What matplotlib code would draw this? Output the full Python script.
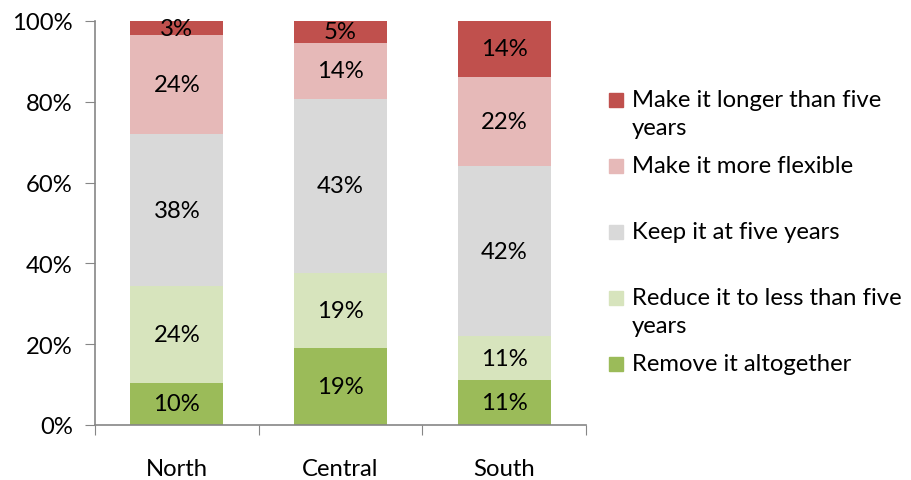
import matplotlib.pyplot as plt
from matplotlib.patches import Rectangle

plt.rcParams['font.family'] = ['Lato', 'DejaVu Sans']

regions = ['North', 'Central', 'South']
series = ['Remove it altogether', 'Reduce it to less than five\nyears', 'Keep it at five years',
          'Make it more flexible', 'Make it longer than five\nyears']
remove_it = [10.4, 19.0, 11.1]
reduce_it = [23.9, 18.7, 10.9]
keep_it = [37.8, 43.0, 42.0]
more_flexible = [24.4, 13.9, 22.2]
make_longer = [3.4, 5.4, 13.8]
colors = ['#9BBB59', '#D7E4BD', '#D9D9D9', '#E6B9B8', '#C0504D']

values = [remove_it, reduce_it, keep_it, more_flexible, make_longer]
FS = 17.2

W, H = 911, 481
fig = plt.figure(figsize=(W / 100, H / 100), dpi=100)
ax = fig.add_axes([95 / W, (H - 426) / H, (586 - 95) / W, 404 / H])

x = range(len(regions))
bottom = [0] * len(regions)
for vals, col in zip(values, colors):
    bars = ax.bar(x, vals, 0.57, bottom=bottom, color=col, zorder=2)
    for b, v in zip(bars, vals):
        ax.text(b.get_x() + b.get_width() / 2, b.get_y() + b.get_height() / 2,
                '%d%%' % round(v), ha='center', va='center', fontsize=FS, zorder=3)
    bottom = [a + b for a, b in zip(bottom, vals)]

ax.set_xlim(-0.5, 2.5)
ax.set_ylim(0, 100)
ax.set_yticks(range(0, 101, 20))
ax.set_yticklabels(['%d%%' % t for t in range(0, 101, 20)])
ax.set_xticks([-0.5, 0.5, 1.5, 2.5], minor=False)
ax.set_xticklabels([])
ax.set_xticks(list(x), minor=True)
ax.set_xticklabels(regions, minor=True)
ax.tick_params(axis='x', which='minor', length=0, pad=24, labelsize=FS)
ax.tick_params(axis='x', which='major', length=7, color='#868686', direction='out')
ax.tick_params(axis='y', length=7, color='#868686', pad=9, labelsize=FS)
for s in ['top', 'right']:
    ax.spines[s].set_visible(False)
for s in ['left', 'bottom']:
    ax.spines[s].set_color('#868686')
    ax.spines[s].set_linewidth(1.2)

# legend, top entry first
for i, (lab, col) in enumerate(zip(series[::-1], colors[::-1])):
    yc = 101 + 66 * i
    fig.patches.append(Rectangle((609 / W, (H - yc - 7) / H), 14 / W, 14 / H,
                                 transform=fig.transFigure, color=col))
    fig.text(632 / W, (H - yc + 11) / H, lab, ha='left', va='top', fontsize=FS,
             linespacing=1.42)

plt.savefig('out.png', dpi=100)
